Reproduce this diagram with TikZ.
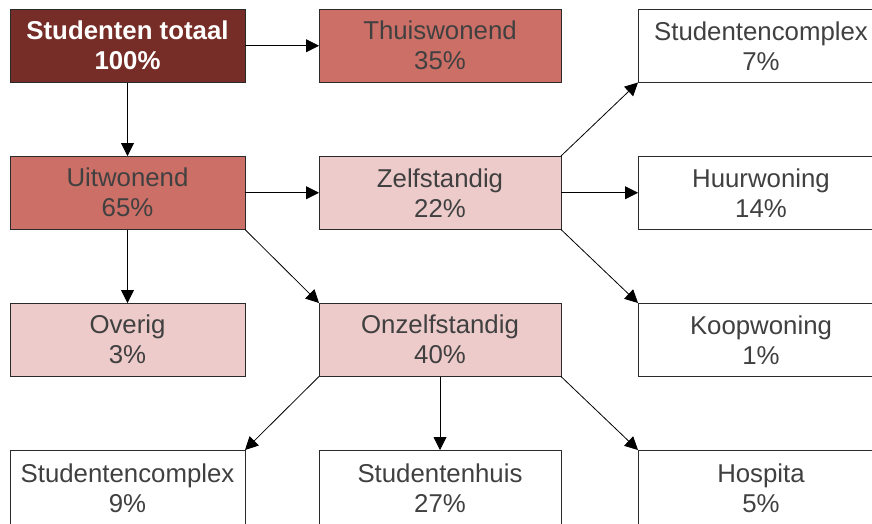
\documentclass[tikz,border=0pt]{standalone}
\usepackage{fontspec}
\setmainfont{Liberation Sans}
\usetikzlibrary{arrows.meta}
\definecolor{darkred}{HTML}{772D27}
\definecolor{midred}{HTML}{CC6F66}
\definecolor{lightred}{HTML}{ECCBCA}
\definecolor{txt}{HTML}{404040}
\definecolor{edge}{HTML}{2A2A2A}
\tikzset{
  box/.style={draw=edge, line width=0.9pt, minimum height=73.5pt, inner sep=0pt, outer sep=0pt,
    align=center, text=txt, font=\fontsize{25.8}{30}\selectfont},
  boxA/.style={box, minimum width=235pt},
  boxB/.style={box, minimum width=242pt},
  boxC/.style={box, draw=none, minimum width=246pt},
  lastrow/.style={minimum height=76pt},
  border/.style={draw=edge, line width=0.9pt},
  conn/.style={draw=black, line width=0.8pt, -{Triangle[length=13pt,width=13pt]}}
}
\begin{document}
\begin{tikzpicture}[x=1pt,y=-1pt]
\useasboundingbox (0,0) rectangle (872,523);
\clip (0,0) rectangle (872,523);
\node[boxA, fill=darkred, text=white, font=\fontsize{25.8}{30}\selectfont\bfseries] (tot) at (127.5,45.75) {Studenten totaal\\100\%};
\node[boxB, fill=midred] (thuis) at (440,45.75) {Thuiswonend\\35\%};
\node[boxC, fill=white] (sc7) at (761,45.75) {Studentencomplex\\7\%};

\node[boxA, fill=midred] (uit) at (127.5,192.75) {Uitwonend\\65\%};
\node[boxB, fill=lightred] (zelf) at (440,192.75) {Zelfstandig\\22\%};
\node[boxC, fill=white] (huur) at (761,192.75) {Huurwoning\\14\%};

\node[boxA, fill=lightred] (ov) at (127.5,339.75) {Overig\\3\%};
\node[boxB, fill=lightred] (onz) at (440,339.75) {Onzelfstandig\\40\%};
\node[boxC, fill=white] (koop) at (761,339.75) {Koopwoning\\1\%};

\node[boxA, lastrow, draw=none, fill=white] (sc9) at (127.5,488) {Studentencomplex\\9\%};
\node[boxB, lastrow, draw=none, fill=white] (shuis) at (440,488) {Studentenhuis\\27\%};
\node[boxC, lastrow, fill=white] (hosp) at (761,488) {Hospita\\5\%};

% borders of the boxes cut by the picture's edge
\draw[border] (sc7.north east) -- (sc7.north west) -- (sc7.south west) -- (sc7.south east);
\draw[border] (huur.north east) -- (huur.north west) -- (huur.south west) -- (huur.south east);
\draw[border] (koop.north east) -- (koop.north west) -- (koop.south west) -- (koop.south east);
\draw[border] (sc9.south west) -- (sc9.north west) -- (sc9.north east) -- (sc9.south east);
\draw[border] (shuis.south west) -- (shuis.north west) -- (shuis.north east) -- (shuis.south east);
\draw[border] (hosp.south west) -- (hosp.north west) -- (hosp.north east);

\draw[conn] (tot.east) -- (thuis.west);
\draw[conn] (tot.south) -- (uit.north);
\draw[conn] (uit.east) -- (zelf.west);
\draw[conn] (uit.south) -- (ov.north);
\draw[conn] (uit.south east) -- (onz.north west);
\draw[conn] (zelf.north east) -- (sc7.south west);
\draw[conn] (zelf.east) -- (huur.west);
\draw[conn] (zelf.south east) -- (koop.north west);
\draw[conn] (onz.south west) -- (sc9.north east);
\draw[conn] (onz.south) -- (shuis.north);
\draw[conn] (onz.south east) -- (hosp.north west);
\end{tikzpicture}
\end{document}
